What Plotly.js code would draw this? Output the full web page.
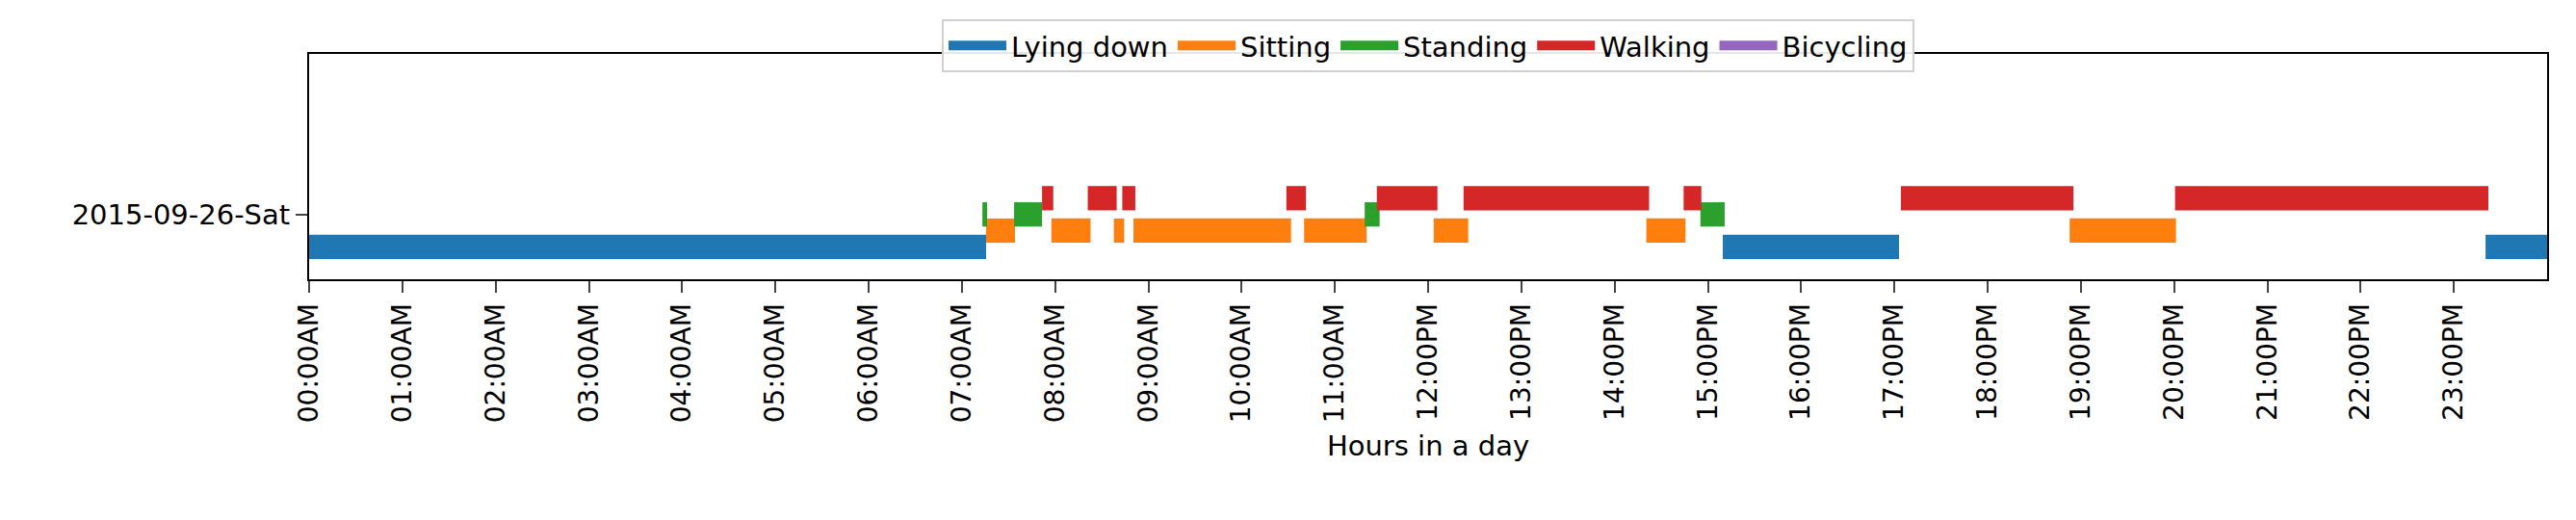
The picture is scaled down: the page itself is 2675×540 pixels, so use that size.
<!DOCTYPE html>
<html>
<head>
<meta charset="utf-8">
<script src="https://cdn.plot.ly/plotly-3.0.1.min.js"></script>
<style>body{margin:0;background:#fff}</style>
</head>
<body>
<div id="chart" style="width:2675px;height:540px"></div>
<script>
// activity segments, hours of the day
const lyingStart = [0, 15.16, 23.34];
const lyingEnd = [7.26, 17.05, 24];
const sittingStart = [7.26, 7.96, 8.63, 8.84, 10.67, 12.06, 14.34, 18.88];
const sittingEnd = [7.57, 8.38, 8.74, 10.53, 11.34, 12.43, 14.76, 20.02];
const standingStart = [7.22, 7.56, 11.32, 14.92];
const standingEnd = [7.27, 7.86, 11.48, 15.18];
const walkingStart = [7.86, 8.35, 8.72, 10.48, 11.45, 12.38, 14.74, 17.07, 20.01];
const walkingEnd = [7.98, 8.66, 8.86, 10.69, 12.10, 14.37, 14.93, 18.92, 23.37];
const bicyclingStart = [];
const bicyclingEnd = [];

const names = ['Lying down', 'Sitting', 'Standing', 'Walking', 'Bicycling'];
const colors = ['#1f77b4', '#ff7f0e', '#2ca02c', '#d62728', '#9467bd'];
const levels = [-2, -1, 0, 1, 2];
const starts = [lyingStart, sittingStart, standingStart, walkingStart, bicyclingStart];
const ends = [lyingEnd, sittingEnd, standingEnd, walkingEnd, bicyclingEnd];

const hourVals = [];
const hourText = [];
for (let h = 0; h < 24; h++) {
	hourVals.push(h);
	hourText.push(String(h).padStart(2, '0') + ':00' + (h < 12 ? 'AM' : 'PM'));
}

const data = [];
names.forEach(function(name, i) {
	data.push({
		type: 'bar',
		orientation: 'h',
		name: name,
		base: starts[i],
		x: ends[i].map(function(e, j) { return e - starts[i][j]; }),
		y: starts[i].map(function() { return levels[i]; }),
		width: 1.5,
		marker: {color: colors[i], line: {width: 0}},
		showlegend: false,
		hoverinfo: 'skip'
	});
});
// legend patches (thick line entries look like matplotlib's rectangles)
names.forEach(function(name, i) {
	data.push({
		type: 'scatter',
		mode: 'lines',
		name: name,
		x: [null],
		y: [null],
		line: {color: colors[i], width: 44},
		hoverinfo: 'skip'
	});
});

const ax = {family: 'DejaVu Sans, sans-serif', color: '#000'};

const layout = {
	width: 2675,
	height: 540,
	margin: {l: 321, r: 30, t: 56, b: 250},
	paper_bgcolor: '#fff',
	plot_bgcolor: '#fff',
	barmode: 'overlay',
	font: {family: ax.family, size: 28, color: '#000'},
	showlegend: true,
	legend: {
		orientation: 'h',
		x: 0.5, xanchor: 'center',
		y: 1.154, yanchor: 'top',
		bgcolor: 'rgba(255,255,255,0.9)',
		bordercolor: '#d0d0d0',
		borderwidth: 2,
		font: {family: ax.family, size: 29, color: '#000'},
		itemwidth: 60,
		tracegroupgap: 0
	},
	xaxis: {
		range: [0, 24],
		tickmode: 'array',
		tickvals: hourVals,
		ticktext: hourText,
		tickangle: -90,
		ticks: 'outside',
		ticklen: 12,
		tickwidth: 2,
		showgrid: false,
		zeroline: false,
		showline: true,
		linewidth: 2,
		linecolor: '#000',
		mirror: true,
		tickfont: {family: ax.family, size: 28, color: '#000'},
		title: {text: 'Hours in a day', font: {family: ax.family, size: 29, color: '#000'}, standoff: 14}
	},
	yaxis: {
		range: [-4, 9.9],
		tickmode: 'array',
		tickvals: [0],
		ticktext: ['2015-09-26-Sat'],
		ticks: 'outside',
		ticklen: 12,
		tickwidth: 2,
		showgrid: false,
		zeroline: false,
		showline: true,
		linewidth: 2,
		linecolor: '#000',
		mirror: true,
		tickfont: {family: ax.family, size: 29, color: '#000'}
	}
};

Plotly.newPlot('chart', data, layout, {displayModeBar: false, staticPlot: true});
</script>
</body>
</html>
